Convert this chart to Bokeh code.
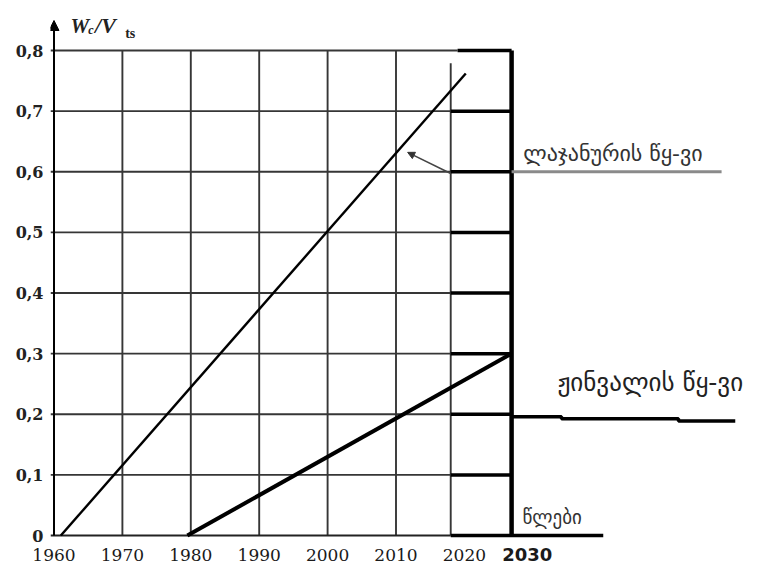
from bokeh.plotting import figure
from bokeh.models import Range1d, FixedTicker, CustomJSTickFormatter, Arrow, NormalHead
from bokeh.core.properties import value
from bokeh.embed import file_html
from bokeh.resources import INLINE

# ---- data ----
x_tick_years = [1960, 1970, 1980, 1990, 2000, 2010, 2020]
y_tick_values = [0.0, 0.1, 0.2, 0.3, 0.4, 0.5, 0.6, 0.7, 0.8]
grid_years = [1960, 1970, 1980, 1990, 2000, 2010]
grid_levels = [0.1, 0.2, 0.3, 0.4, 0.5, 0.6, 0.7, 0.8]

lajanuri_years = [1961.0, 2020.2]
lajanuri_ratio = [0.0, 0.762]
zhinvali_years = [1979.5, 2026.6]
zhinvali_ratio = [0.0, 0.298]

scale_start_year = 2018.0      # thin vertical where the thick scale begins
scale_end_year = 2026.9        # thick vertical bar
scale_top_start_year = 2019.0  # top thick tick starts here
scale_top_thin = 0.779
baseline_end_year = 2040.3

lajanuri_leader_years = [2026.9, 2057.6]
lajanuri_leader_level = 0.6
lajanuri_pointer_from = (2018.0, 0.597)
lajanuri_pointer_to = (2011.7, 0.632)

zhinvali_leader_years = [2026.9, 2034.2, 2034.2, 2051.3, 2051.3, 2059.6]
zhinvali_leader_level = [0.196, 0.196, 0.1925, 0.1925, 0.189, 0.189]

lbl_lajanuri = "ლაჯანურის წყ-ვი"
lbl_zhinvali = "ჟინვალის წყ-ვი"
lbl_years = "წლები"
lbl_2030 = "2030"

# ---- figure ----
PX_X = 6.84      # px per year
PX_Y = 606.25    # px per unit ratio
W, H = 759, 567
LEFT = 50
X1960 = 53.5
Y0PX = 535
x0 = 1960 - (X1960 - LEFT) / PX_X
x1 = 1960 + (W - X1960) / PX_X
y0 = -(H - Y0PX) / PX_Y
y1 = Y0PX / PX_Y

p = figure(width=W, height=H, output_backend="svg", toolbar_location=None,
           x_range=Range1d(x0, x1), y_range=Range1d(y0, y1),
           min_border_left=LEFT, min_border_right=0, min_border_top=0, min_border_bottom=0)
p.outline_line_color = None
p.xgrid.visible = False
p.ygrid.visible = False
p.background_fill_color = "white"

# axes
p.xaxis.ticker = FixedTicker(ticks=x_tick_years)
p.xaxis.axis_line_color = None
p.xaxis.major_tick_line_color = None
p.xaxis.minor_tick_line_color = None
p.xaxis.major_tick_out = 0
p.xaxis.major_tick_in = 0
p.xaxis.major_label_standoff = -19
p.xaxis.major_label_text_font = "DejaVu Serif"
p.xaxis.major_label_text_font_size = "17px"
p.xaxis.major_label_text_color = "#1a1a1a"

p.yaxis.ticker = FixedTicker(ticks=y_tick_values)
p.yaxis.formatter = CustomJSTickFormatter(code="""
    if (Math.abs(tick) < 1e-9) { return "0"; }
    return tick.toFixed(1).replace('.', ',');
""")
p.yaxis.axis_line_color = None
p.yaxis.major_tick_line_color = None
p.yaxis.minor_tick_line_color = None
p.yaxis.major_tick_out = 0
p.yaxis.major_tick_in = 0
p.yaxis.major_label_standoff = 7
p.yaxis.major_label_text_font = "DejaVu Serif"
p.yaxis.major_label_text_font_style = "bold"
p.yaxis.major_label_text_font_size = "16px"
p.yaxis.major_label_text_color = "#222222"

grid_color = "#363636"

# thin grid: verticals
p.segment(x0=grid_years[1:], y0=[0] * (len(grid_years) - 1),
          x1=grid_years[1:], y1=[0.8] * (len(grid_years) - 1),
          line_color=grid_color, line_width=1.9)
p.segment(x0=[scale_start_year], y0=[0], x1=[scale_start_year], y1=[scale_top_thin],
          line_color=grid_color, line_width=1.9)
# thin grid: horizontals
h_ends = [scale_start_year] * (len(grid_levels) - 1) + [scale_top_start_year]
p.segment(x0=[x0] * len(grid_levels), y0=grid_levels, x1=h_ends, y1=grid_levels,
          line_color=grid_color, line_width=1.9)
# baseline thin part
p.segment(x0=[x0], y0=[0], x1=[scale_start_year], y1=[0], line_color="#222222", line_width=2)

# y axis with arrow
p.add_layout(Arrow(end=NormalHead(size=10, fill_color="black", line_color="black"),
                   x_start=1960, y_start=0, x_end=1960, y_end=0.8495,
                   line_color="black", line_width=2))

# thick scale on the right
tick_starts = [scale_start_year] * 7 + [scale_top_start_year]
p.segment(x0=tick_starts, y0=grid_levels, x1=[scale_end_year] * len(grid_levels), y1=grid_levels,
          line_color="black", line_width=3.5)
p.segment(x0=[scale_start_year], y0=[0], x1=[baseline_end_year], y1=[0],
          line_color="black", line_width=3.5)
p.segment(x0=[scale_end_year], y0=[0], x1=[scale_end_year], y1=[0.8],
          line_color="black", line_width=4.5)

# leaders
p.line(lajanuri_leader_years, [lajanuri_leader_level] * 2, line_color="#8a8a8a", line_width=3)
p.line(zhinvali_leader_years, zhinvali_leader_level, line_color="black", line_width=3.5)

# series lines
p.line(lajanuri_years, lajanuri_ratio, line_color="black", line_width=2.4)
p.line(zhinvali_years, zhinvali_ratio, line_color="black", line_width=4)

# pointer arrow
p.add_layout(Arrow(end=NormalHead(size=7, fill_color="#333333", line_color="#333333"),
                   x_start=lajanuri_pointer_from[0], y_start=lajanuri_pointer_from[1],
                   x_end=lajanuri_pointer_to[0], y_end=lajanuri_pointer_to[1],
                   line_color="#444444", line_width=1.6))

# texts
p.text(x=[2028.6], y=[0.630], text=[lbl_lajanuri], text_font=value("DejaVu Sans"),
       text_font_size="22px", text_align="left", text_baseline="middle", text_color="#333333")
p.text(x=[2033.6], y=[0.252], text=[lbl_zhinvali], text_font=value("DejaVu Sans"),
       text_font_size="25px", text_align="left", text_baseline="middle", text_color="#222222")
p.text(x=[2028.5], y=[0.030], text=[lbl_years], text_font=value("DejaVu Sans"),
       text_font_size="19px", text_align="left", text_baseline="middle", text_color="#333333")

# bold 2030 label under the thick bar
p.text(x=[2029.2], y=[-0.0315], text=[lbl_2030], text_font=value("DejaVu Sans"),
       text_font_style="bold", text_font_size="18px", text_align="center",
       text_baseline="middle", text_color="#1a1a1a")

# y axis title W_c / V_ts
serif = value("Liberation Serif")
p.text(x=[1962.4], y=[0.8412], text=["W"], text_font=serif, text_font_style="bold italic",
       text_font_size="21px", text_align="left", text_baseline="alphabetic", text_color="#222222")
p.text(x=[1965.0], y=[0.8346], text=["c"], text_font=serif, text_font_style="bold italic",
       text_font_size="12px", text_align="left", text_baseline="alphabetic", text_color="#222222")
p.text(x=[1966.0], y=[0.8412], text=["/V"], text_font=serif, text_font_style="bold italic",
       text_font_size="22px", text_align="left", text_baseline="alphabetic", text_color="#222222")
p.text(x=[1970.4], y=[0.828], text=["ts"], text_font=serif, text_font_style="bold",
       text_font_size="14px", text_align="left", text_baseline="alphabetic", text_color="#222222")

open("out.html", "w").write(file_html(p, INLINE))
